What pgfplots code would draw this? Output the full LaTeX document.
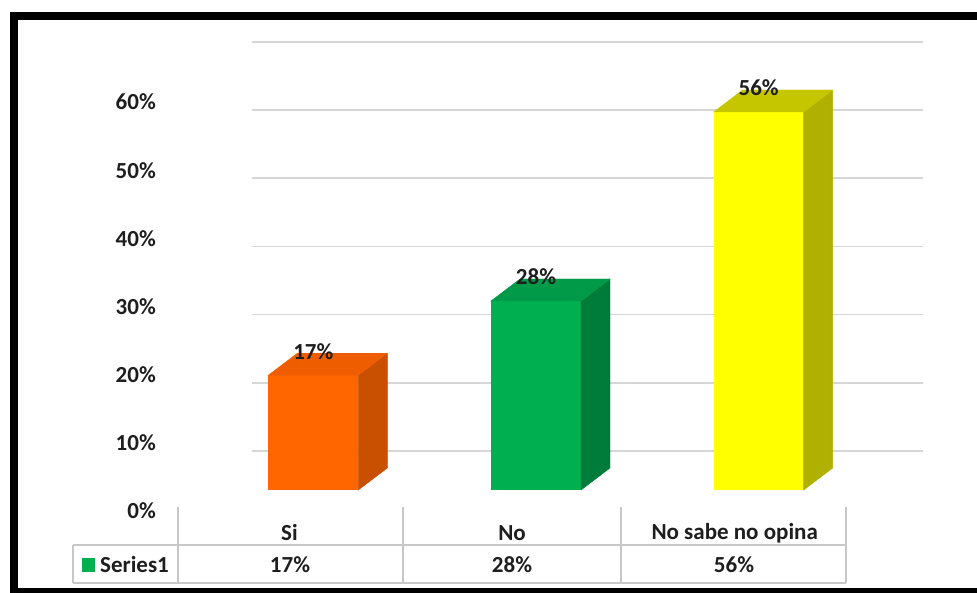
\documentclass[border=0pt]{standalone}
\usepackage{fontspec}
\setmainfont{Carlito}
\usepackage{pgfplots}
\pgfplotsset{compat=1.18}
\definecolor{orF}{HTML}{FF6600}
\definecolor{orS}{HTML}{C85000}
\definecolor{orT}{HTML}{EE5E00}
\definecolor{grF}{HTML}{00B050}
\definecolor{grS}{HTML}{007C3A}
\definecolor{grT}{HTML}{009A48}
\definecolor{yeF}{HTML}{FFFF00}
\definecolor{yeS}{HTML}{B0B000}
\definecolor{yeT}{HTML}{C6C600}
\definecolor{txt}{HTML}{1E1E1E}
\pgfdeclareplotmark{nothing}{}
\tikzset{bigfont/.style={font=\fontsize{23}{27}\selectfont\bfseries}}
\pgfplotsset{
  /pgf/number format/assume math mode=true,
  bar3d/.style 2 args={scatter, only marks, mark=nothing,
    visualization depends on={rawy \as \val},
    scatter/@pre marker code/.code={%
      \pgfmathsetmacro\hh{\val*6.75}%
      \pgfmathsetmacro\hb{22-\hh}%
      \fill[#1] (45pt,0pt) -- (74pt,22pt) -- (74pt,\hb pt) -- (45pt,-\hh pt) -- cycle;
      \fill[#2] (-45pt,0pt) -- (45pt,0pt) -- (74pt,22pt) -- (-16pt,22pt) -- cycle;
    },
    scatter/@post marker code/.code={}},
  front/.style={ybar, bar width=90pt, bar shift=0pt, fill=#1, draw=none,
    point meta=rawy,
    nodes near coords={\pgfmathprintnumber{\pgfplotspointmeta}\%},
    every node near coord/.append style={bigfont, text=txt, anchor=center, yshift=24pt}},
}
\begin{document}
\begin{tikzpicture}[x=1pt,y=1pt]
\useasboundingbox (0,0) rectangle (977,593);
\fill[white] (0,0) rectangle (977,593);
\begin{scope}
\clip (0,0) rectangle (977,593);
\draw[line width=8pt] (14,1) rectangle (1000,577);
\end{scope}
% back wall axis: gridlines and tick labels
\begin{axis}[
  at={(252pt,74pt)}, anchor=south west,
  width=671pt, height=477pt, scale only axis,
  xmin=-0.168, xmax=2.846, ymin=0, ymax=70,
  axis line style={draw=none},
  major tick length=0pt,
  tick label style={bigfont, text=txt},
  xtick={0,1,2}, xticklabels={Si,No,No sabe no opina},
  xticklabel style={anchor=center, inner sep=0pt, yshift=-14pt},
  ytick={0,10,...,60},
  yticklabel={\pgfmathprintnumber{\tick}\%},
  yticklabel style={anchor=east, inner sep=0pt, xshift=-96pt, yshift=8pt},
  extra y ticks={10,20,...,70}, extra y tick labels={},
  extra y tick style={grid=major, major grid style={black!16, line width=1.6pt}},
  clip=false,
]
\addplot[draw=none] coordinates {(0,0)};
\end{axis}
% bars
\begin{axis}[
  at={(202pt,103pt)}, anchor=south west,
  width=668pt, height=472.5pt, scale only axis,
  xmin=-0.5, xmax=2.5, ymin=0, ymax=70,
  hide axis, clip=false,
]
\addplot[bar3d={orS}{orT}] coordinates {(0,17)};
\addplot[bar3d={grS}{grT}] coordinates {(1,28)};
\addplot[bar3d={yeS}{yeT}] coordinates {(2,56)};
\addplot[front=orF] coordinates {(0,17)};
\addplot[front=grF] coordinates {(1,28)};
\addplot[front=yeF] coordinates {(2,56)};
\end{axis}
% data table
\begin{scope}[draw=black!22, line width=1.2pt]
\draw (178,86) -- (178,10);
\draw (403,86) -- (403,10);
\draw (621,86) -- (621,10);
\draw (846,86) -- (846,10);
\draw (73,48) -- (846,48);
\draw (73,10) -- (846,10);
\draw (73,48) -- (73,10);
\end{scope}
\fill[grF] (82,21) rectangle (95,35);
\begin{scope}[bigfont, text=txt]
\node[anchor=west, inner sep=0pt] at (100,28) {Series1};
\node[inner sep=0pt] at (290,28) {17\%};
\node[inner sep=0pt] at (512,28) {28\%};
\node[inner sep=0pt] at (734,28) {56\%};
\end{scope}
\end{tikzpicture}
\end{document}
